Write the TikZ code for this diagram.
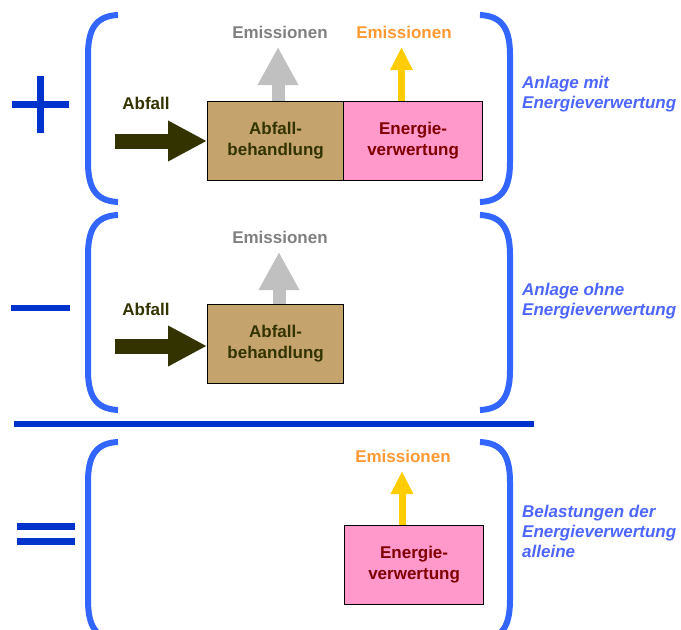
\documentclass[tikz,border=0pt]{standalone}
\usepackage{fontspec}
\setmainfont{Liberation Sans}
\usetikzlibrary{arrows.meta}
\definecolor{brk}{HTML}{3366FF}
\definecolor{mathc}{HTML}{0033CC}
\definecolor{tan}{HTML}{C4A46C}
\definecolor{pinkbox}{HTML}{FF99CC}
\definecolor{olive}{HTML}{333300}
\definecolor{darkred}{HTML}{800000}
\definecolor{grayarr}{HTML}{C0C0C0}
\definecolor{grayt}{HTML}{808080}
\definecolor{yelarr}{HTML}{FFCC00}
\definecolor{orangt}{HTML}{FF9933}
\definecolor{italc}{HTML}{4D66FF}
\tikzset{
  x=1pt, y=-1pt,
  lbl/.style={font=\fontsize{17}{20}\selectfont\bfseries, inner sep=0pt, align=center},
  abox/.style={draw=black, line width=1.2pt, fill=tan, minimum width=136pt, minimum height=79pt, inner sep=0pt, font=\fontsize{17}{21}\selectfont\bfseries, text=olive, align=center, anchor=north west},
  ebox/.style={abox, fill=pinkbox, minimum width=139pt, text=darkred},
  side/.style={font=\fontsize{17}{20}\selectfont\bfseries\itshape, text=italc, align=left, anchor=north west, inner sep=0pt},
  brack/.style={draw=brk, line width=6pt},
  mathbar/.style={draw=mathc, line width=7pt},
  inarrow/.style={draw=olive, line width=15pt, -{Triangle[width=38pt,length=39pt]}},
  grayarrow/.style={draw=grayarr, line width=13pt, -{Triangle[width=38pt,length=38pt]}},
  yelarrow/.style={draw=yelarr, line width=7pt, -{Triangle[width=21pt,length=23pt]}},
}
\newcommand{\lbrak}[2]{\draw[brack] (118,#1) .. controls (95,#1+1) and (88,#1+15) .. (88,#1+40) -- (88,#2-40) .. controls (88,#2-15) and (95,#2-1) .. (118,#2);}
\newcommand{\rbrak}[2]{\draw[brack] (480,#1) .. controls (503,#1+1) and (510,#1+15) .. (510,#1+40) -- (510,#2-40) .. controls (510,#2-15) and (503,#2-1) .. (480,#2);}
\begin{document}
\begin{tikzpicture}
\useasboundingbox (0,0) rectangle (681,630);
% brackets
\lbrak{15}{202}
\rbrak{15}{202}
\lbrak{215}{410}
\rbrak{215}{410}
\lbrak{442}{640}
\rbrak{442}{640}
% math signs
\draw[mathbar] (12,104) -- (69,104);
\draw[mathbar] (40,76) -- (40,133);
\draw[mathbar, line width=6pt] (11,308) -- (70,308);
\draw[mathbar, line width=6pt] (14,424) -- (534,424);
\draw[mathbar] (17,526) -- (75,526);
\draw[mathbar] (17,541) -- (75,541);
% top section
\node[abox] (ab1) at (207,101) {Abfall-\\behandlung};
\node[ebox] (en1) at (343,101) {Energie-\\verwertung};
\node[lbl, text=grayt] (em1) at (280,32) {Emissionen};
\node[lbl, text=orangt] (em2) at (404,32) {Emissionen};
\node[lbl, text=olive] (af1) at (146,103) {Abfall};
\coordinate (gt1) at (278,47);
\coordinate (yt1) at (401.5,47);
\coordinate (in1) at (115,141);
\draw[grayarrow] (gt1 |- ab1.north) -- (gt1);
\draw[yelarrow] (yt1 |- en1.north) -- (yt1);
\draw[inarrow] (in1) -- (in1 -| ab1.west);
\node[side] (s1) at (522,76) {Anlage mit\\Energieverwertung};
% middle section
\node[abox] (ab2) at (207,304) {Abfall-\\behandlung};
\node[lbl, text=grayt] (em3) at (280,237) {Emissionen};
\node[lbl, text=olive] (af2) at (146,309) {Abfall};
\coordinate (gt2) at (279,252);
\coordinate (in2) at (115,346);
\draw[grayarrow] (gt2 |- ab2.north) -- (gt2);
\draw[inarrow] (in2) -- (in2 -| ab2.west);
\node[side] (s2) at (522,283) {Anlage ohne\\Energieverwertung};
% bottom section
\node[ebox] (en3) at (344,525) {Energie-\\verwertung};
\node[lbl, text=orangt] (em4) at (403,456) {Emissionen};
\coordinate (yt3) at (402,471);
\draw[yelarrow] (yt3 |- en3.north) -- (yt3);
\node[side] (s3) at (522,505) {Belastungen der\\Energieverwertung\\alleine};
\end{tikzpicture}
\end{document}
